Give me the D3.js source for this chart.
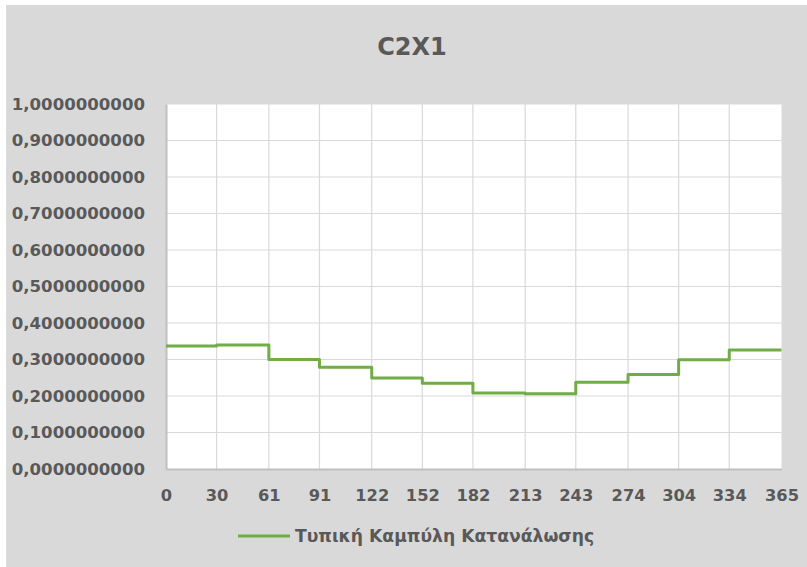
<!DOCTYPE html>
<html>
<head>
<meta charset="utf-8">
<script src="https://cdn.jsdelivr.net/npm/d3@7"></script>
<style>
html,body{margin:0;padding:0;background:#fff;}
svg{display:block;}
text{font-family:"DejaVu Sans",Verdana,sans-serif;}
</style>
</head>
<body>
<svg id="chart" width="807" height="567"></svg>
<script>
// Data
const title = "C2X1";
const seriesName = "Τυπική Καμπύλη Κατανάλωσης";
const monthStartDays = [0, 30, 61, 91, 122, 152, 182, 213, 243, 274, 304, 334];
const monthValues = [0.337, 0.340, 0.300, 0.279, 0.249, 0.235, 0.208, 0.206, 0.238, 0.259, 0.299, 0.326];
const yearEndDay = 365;
const xTickValues = [0, 30, 61, 91, 122, 152, 182, 213, 243, 274, 304, 334, 365];
const yTickValues = [0, 0.1, 0.2, 0.3, 0.4, 0.5, 0.6, 0.7, 0.8, 0.9, 1.0];

const svg = d3.select("#chart");
const W = 807, H = 567;
const plot = {left: 166, right: 781.5, top: 104, bottom: 469};

svg.append("rect").attr("x", 0).attr("y", 0).attr("width", W).attr("height", H).attr("fill", "#ffffff");
svg.append("rect").attr("x", 6).attr("y", 5).attr("width", W - 6).attr("height", H - 5).attr("fill", "#d9d9d9");

const x = d3.scaleLinear().domain([0, 365]).range([plot.left, plot.right]);
const y = d3.scaleLinear().domain([0, 1]).range([plot.bottom, plot.top]);

svg.append("rect").attr("x", plot.left).attr("y", plot.top)
  .attr("width", plot.right - plot.left).attr("height", plot.bottom - plot.top).attr("fill", "#ffffff");

// Gridlines
const grid = svg.append("g");
grid.selectAll("line.h").data(yTickValues.filter(d => d > 0)).join("line")
  .attr("x1", plot.left).attr("x2", plot.right)
  .attr("y1", d => y(d)).attr("y2", d => y(d))
  .attr("stroke", "#d9d9d9").attr("stroke-width", 1.2);
grid.selectAll("line.v").data(xTickValues.filter(d => d > 0 && d < 365)).join("line")
  .attr("x1", d => x(d)).attr("x2", d => x(d))
  .attr("y1", plot.top).attr("y2", plot.bottom)
  .attr("stroke", "#d9d9d9").attr("stroke-width", 1.2);

// Axes
const fmt = d => d3.format(".10f")(d).replace(".", ",");
const yAxis = svg.append("g").attr("transform", `translate(${plot.left},0)`)
  .call(d3.axisLeft(y).tickValues(yTickValues).tickFormat(fmt).tickSize(0).tickPadding(21));
yAxis.select(".domain").attr("stroke", "#bfbfbf").attr("stroke-width", 2);
yAxis.selectAll("text").attr("fill", "#595959").style("font-size", "16.6px").style("font-weight", "bold")
  .attr("font-family", "DejaVu Sans");

const xAxis = svg.append("g").attr("transform", `translate(0,${plot.bottom})`)
  .call(d3.axisBottom(x).tickValues(xTickValues).tickFormat(d3.format("d")).tickSize(0).tickPadding(20));
xAxis.select(".domain").attr("stroke", "#bfbfbf").attr("stroke-width", 2);
xAxis.selectAll("text").attr("fill", "#595959").style("font-size", "16.3px").style("font-weight", "bold")
  .attr("font-family", "DejaVu Sans");

// Line
const pts = monthStartDays.map((d, i) => [d, monthValues[i]]);
pts.push([yearEndDay, monthValues[monthValues.length - 1]]);
const line = d3.line().x(d => x(d[0])).y(d => y(d[1])).curve(d3.curveStepAfter);
svg.append("path").datum(pts).attr("d", line)
  .attr("fill", "none").attr("stroke", "#70ad47").attr("stroke-width", 3)
  .attr("stroke-linejoin", "round");

// Title
svg.append("text").attr("x", 412).attr("y", 54.5).attr("text-anchor", "middle")
  .attr("fill", "#595959").style("font-size", "24px").style("font-weight", "bold").text(title);

// Legend
const lg = svg.append("g");
lg.append("line").attr("x1", 238).attr("x2", 290).attr("y1", 536).attr("y2", 536)
  .attr("stroke", "#70ad47").attr("stroke-width", 3);
lg.append("text").attr("x", 295).attr("y", 542).attr("fill", "#595959")
  .style("font-size", "17.2px").style("font-weight", "bold").text(seriesName);
</script>
</body>
</html>
